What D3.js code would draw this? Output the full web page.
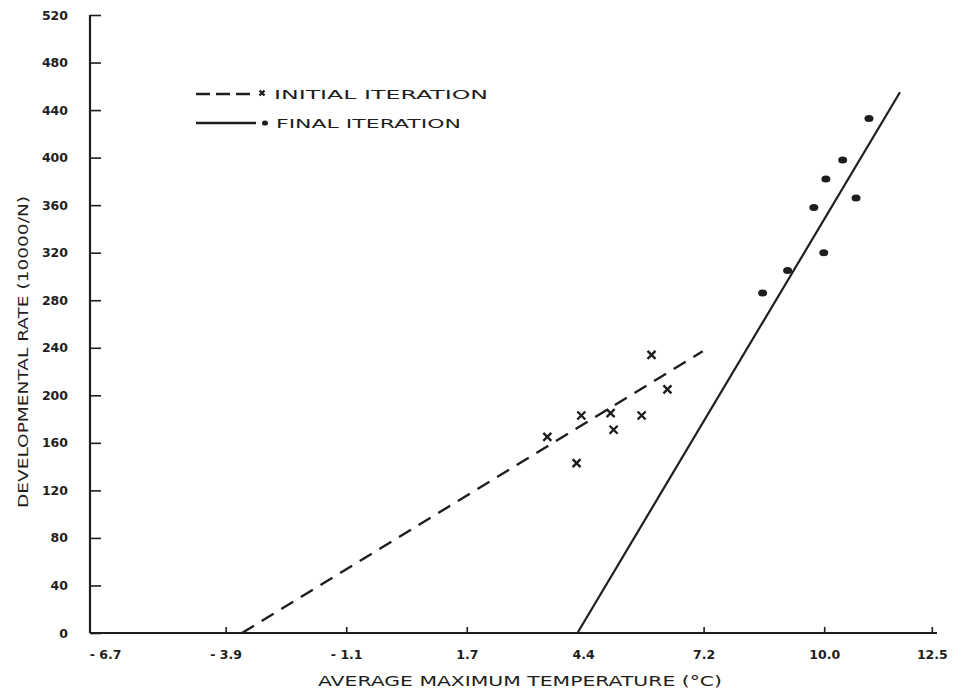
<!DOCTYPE html>
<html>
<head>
<meta charset="utf-8">
<script src="https://cdn.jsdelivr.net/npm/d3@7"></script>
<style>
  html, body { margin: 0; padding: 0; background: #fff; }
  svg text { font-family: "DejaVu Sans", sans-serif; fill: #1e1e1e; }
</style>
</head>
<body>
<svg id="chart" width="965" height="692"></svg>
<script>
// ---- data ----
const xTickValues = [-6.7, -3.9, -1.1, 1.7, 4.4, 7.2, 10.0, 12.5];
const xTickLabels = ["- 6.7", "- 3.9", "- 1.1", "1.7", "4.4", "7.2", "10.0", "12.5"];
const yTickValues = [0, 40, 80, 120, 160, 200, 240, 280, 320, 360, 400, 440, 480, 520];

// initial iteration (crosses)
const initialX = [5.99, 6.36, 4.36, 5.04, 5.76, 5.11, 3.57, 4.25];
const initialY = [234, 205, 183, 185, 183, 171, 165, 143];
// final iteration (dots)
const finalX = [11.04, 10.43, 10.04, 10.74, 9.76, 9.99, 9.15, 8.57];
const finalY = [433, 398, 382, 366, 358, 320, 305, 286];

// fitted lines (endpoints)
const initialLineX = [-3.52, 7.18];
const initialLineY = [0, 237];
const finalLineX = [4.27, 11.76];
const finalLineY = [0, 455];

const legendLabels = ["INITIAL ITERATION", "FINAL ITERATION"];
const xTitle = "AVERAGE MAXIMUM TEMPERATURE (°C)";
const yTitle = "DEVELOPMENTAL RATE (10000/N)";

// ---- layout ----
const svg = d3.select("#chart");
const ink = "#1e1e1e";
const mLeft = 90, mRight = 937, mTop = 15, mBottom = 633;

const x = d3.scaleLinear().domain([-7.05, 12.62]).range([mLeft, mRight]);
const y = d3.scaleLinear().domain([0, 520]).range([mBottom, mTop]);

// axes
const xAxis = d3.axisBottom(x).tickValues(xTickValues).tickSize(-6)
  .tickFormat((d, i) => xTickLabels[i]).tickPadding(22);
const yAxis = d3.axisLeft(y).tickValues(yTickValues).tickSize(-11)
  .tickFormat(d3.format("d")).tickPadding(22);

const gx = svg.append("g").attr("transform", `translate(0,${mBottom})`).call(xAxis);
const gy = svg.append("g").attr("transform", `translate(${mLeft},0)`).call(yAxis);
[gx, gy].forEach(g => {
  g.select(".domain").attr("stroke", ink).attr("stroke-width", 2.2);
  g.selectAll(".tick line").attr("stroke", ink).attr("stroke-width", 1.6);
  g.selectAll(".tick text").attr("fill", ink).style("font-size", "12.5px")
    .style("font-weight", "bold").style("font-family", "'DejaVu Sans', sans-serif");
});
gx.select(".domain").attr("d", `M${mLeft},0H${mRight}`);
gy.select(".domain").attr("d", `M0,${mBottom}V${mTop}`);
gx.selectAll(".tick").filter(d => d === -6.7 || d === 4.4).select("line").remove();
gx.selectAll(".tick text").attr("dy", "0.35em");

// fitted lines
const line = d3.line().x(d => x(d[0])).y(d => y(d[1]));
svg.append("path")
  .attr("d", line(initialLineX.map((v, i) => [v, initialLineY[i]])))
  .attr("fill", "none").attr("stroke", ink).attr("stroke-width", 2.4)
  .attr("stroke-dasharray", "14,9");
svg.append("path")
  .attr("d", line(finalLineX.map((v, i) => [v, finalLineY[i]])))
  .attr("fill", "none").attr("stroke", ink).attr("stroke-width", 2.2);

// markers
function cross(g, cx, cy, s) {
  g.append("path")
    .attr("d", `M${cx - s},${cy - s}L${cx + s},${cy + s}M${cx + s},${cy - s}L${cx - s},${cy + s}`)
    .attr("stroke", ink).attr("stroke-width", 2.4).attr("fill", "none");
}
const gCross = svg.append("g");
initialX.forEach((v, i) => cross(gCross, x(v), y(initialY[i]), 4));

svg.append("g").selectAll("ellipse")
  .data(finalX.map((v, i) => [v, finalY[i]]))
  .join("ellipse")
  .attr("cx", d => x(d[0])).attr("cy", d => y(d[1]))
  .attr("rx", 4.5).attr("ry", 3.5).attr("fill", ink);

// legend
const lg = svg.append("g");
lg.append("line").attr("x1", 196).attr("x2", 256).attr("y1", 94).attr("y2", 94)
  .attr("stroke", ink).attr("stroke-width", 2.4).attr("stroke-dasharray", "14,6");
cross(lg, 262, 93, 2.5);
lg.append("text").attr("x", 274).attr("y", 99).text(legendLabels[0])
  .style("font-size", "13px").attr("textLength", 214).attr("lengthAdjust", "spacingAndGlyphs");
lg.append("line").attr("x1", 196).attr("x2", 256).attr("y1", 123).attr("y2", 123)
  .attr("stroke", ink).attr("stroke-width", 2.4);
lg.append("ellipse").attr("cx", 265).attr("cy", 123).attr("rx", 3).attr("ry", 2.6).attr("fill", ink);
lg.append("text").attr("x", 276).attr("y", 128).text(legendLabels[1])
  .style("font-size", "13px").attr("textLength", 185).attr("lengthAdjust", "spacingAndGlyphs");

// axis titles
svg.append("text").attr("x", 520).attr("y", 686).attr("text-anchor", "middle")
  .style("font-size", "13.5px").attr("textLength", 404).attr("lengthAdjust", "spacingAndGlyphs")
  .text(xTitle);
svg.append("text").attr("transform", "translate(28,352) rotate(-90)").attr("text-anchor", "middle")
  .style("font-size", "13.5px").attr("textLength", 312).attr("lengthAdjust", "spacingAndGlyphs")
  .text(yTitle);
</script>
</body>
</html>
